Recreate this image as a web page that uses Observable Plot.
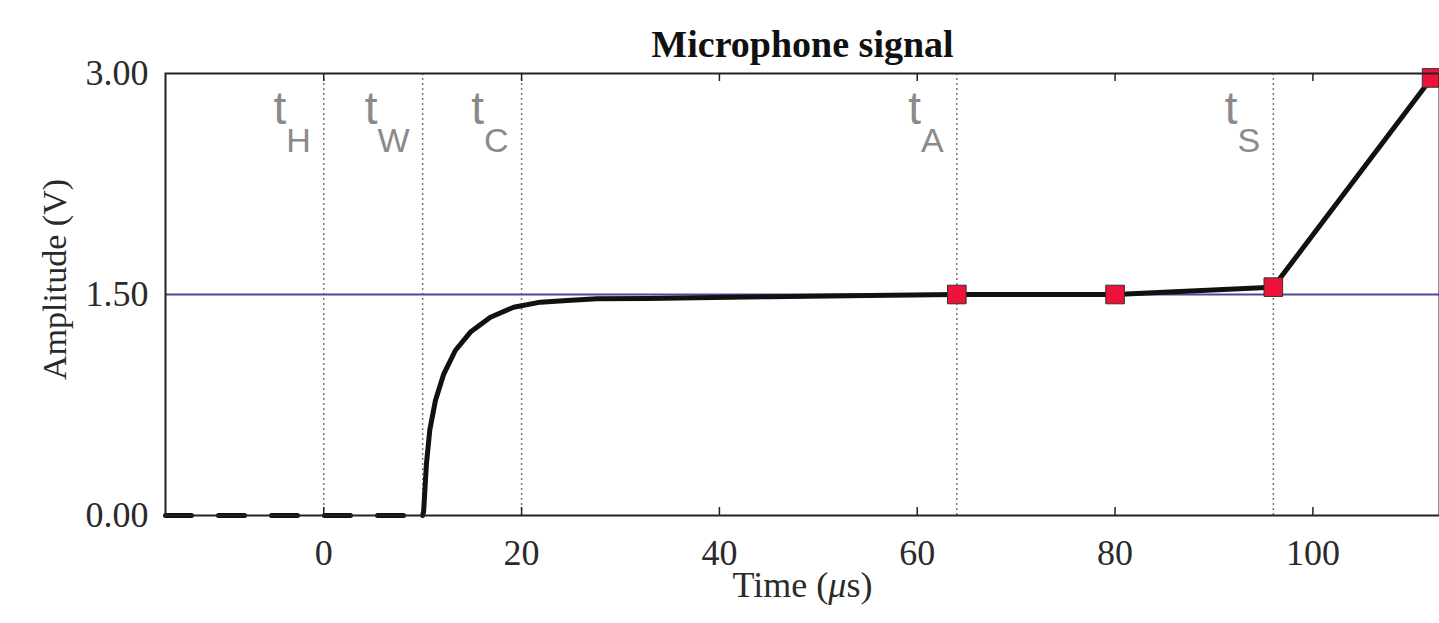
<!DOCTYPE html>
<html>
<head>
<meta charset="utf-8">
<script src="https://cdn.jsdelivr.net/npm/d3@7"></script>
<script src="https://cdn.jsdelivr.net/npm/@observablehq/plot@0.6"></script>
<style>
  html, body { margin: 0; padding: 0; background: #fff; }
</style>
</head>
<body>
<div id="chart"></div>
<script>
// ---- data ----
const xTicks = [0, 20, 40, 60, 80, 100];
const yTicks = [0, 1.5, 3];
const markerTimes = [0, 10, 20, 64, 96];
const markerNames = ["H", "W", "C", "A", "S"];
const preT = [-16, 9.5];
const preV = [0, 0];
const riseT = [10, 10.1, 10.38, 10.72, 11.29, 12.13, 13.3, 14.83, 16.85, 19.2, 21.9, 24.6, 27.6, 32.7, 36, 45, 55];
const riseV = [0, 0.03, 0.35, 0.58, 0.78, 0.96, 1.12, 1.245, 1.346, 1.414, 1.448, 1.46, 1.471, 1.473, 1.476, 1.485, 1.493];
const sampleT = [64, 80, 96, 112];
const sampleV = [1.50, 1.50, 1.55, 2.97];
const refLevel = [1.5];
const title = "Microphone signal";
const xLabel = "Time (μs)";
const yLabel = "Amplitude (V)";

const pre = preT.map((t, i) => ({t, v: preV[i]}));
const sig = riseT.concat(sampleT).map((t, i) => ({t, v: riseV.concat(sampleV)[i]}));
const samples = sampleT.map((t, i) => ({t, v: sampleV[i]}));
const markers = markerTimes.map((t, i) => ({t, name: "t" + markerNames[i]}));

const W = 1439, H = 623, mt = 73, mb = 108, ml = 165, mr = 0;
const ph = H - mt - mb;

const plot = Plot.plot({
  width: W, height: H,
  marginLeft: ml, marginRight: mr, marginTop: mt, marginBottom: mb,
  style: {fontFamily: "'Liberation Serif', 'Times New Roman', serif", fontSize: "36px", color: "#2a2a2a", background: "#fff"},
  x: {domain: [-16, 112.8]},
  y: {domain: [0, 3]},
  marks: [
    Plot.ruleX(markers, {x: "t", stroke: "#7a7a7a", strokeWidth: 1.5, strokeDasharray: "2,3"}),
    Plot.ruleY(refLevel, {stroke: "#4a4a9c", strokeWidth: 2}),
    Plot.line(pre, {x: "t", y: "v", stroke: "#111", strokeWidth: 5, strokeDasharray: "26,27"}),
    Plot.line(sig, {x: "t", y: "v", stroke: "#111", strokeWidth: 5, strokeLinejoin: "round"}),
    Plot.dot(samples, {x: "t", y: "v", symbol: "square", r: 10.5, fill: "#ec1238", stroke: "#333", strokeWidth: 1}),
    Plot.frame({stroke: "#222", strokeWidth: 2}),
    Plot.tickX(xTicks, {x: d => d, insetTop: ph - 8, stroke: "#222", strokeWidth: 1.5}),
    Plot.tickX(xTicks, {x: d => d, insetBottom: ph - 8, stroke: "#222", strokeWidth: 1.5}),
    Plot.axisX(xTicks, {tickSize: 0, tickPadding: 24, label: null, fontSize: 36}),
    Plot.axisY(yTicks, {tickSize: 0, tickPadding: 17, label: null, fontSize: 36, tickFormat: d3.format(".2f")}),
    Plot.text(markers, {x: "t", text: "name", frameAnchor: "top", dy: 50, dx: -13, lineAnchor: "bottom", textAnchor: "end",
      fill: "#8a8a8a", fontSize: 46, fontFamily: "'Liberation Sans', Arial, sans-serif"}),
    Plot.text([title], {frameAnchor: "top", dy: -17, lineAnchor: "bottom", textAnchor: "middle", fontWeight: "bold", fontSize: 38, fill: "#111"}),
    Plot.text([xLabel], {frameAnchor: "bottom", dy: 81, lineAnchor: "bottom", textAnchor: "middle", fontSize: 36, fill: "#2a2a2a"}),
    Plot.text([yLabel], {frameAnchor: "left", dx: -110, dy: -15, rotate: -90, textAnchor: "middle", fontSize: 34, fill: "#2a2a2a"})
  ]
});

const names = new Set(markers.map(d => d.name));
d3.select(plot).selectAll("text").each(function() {
  const s = this.textContent;
  const el = d3.select(this);
  if (names.has(s)) {
    el.text(s.slice(0, 1));
    el.append("tspan").attr("dy", "0.84em").attr("font-size", "0.74em").text(s.slice(1));
  } else if (s === xLabel) {
    const i = s.indexOf("μ");
    el.text(s.slice(0, i));
    el.append("tspan").attr("font-style", "italic").text("μ");
    el.append("tspan").text(s.slice(i + 1));
  }
});

document.getElementById("chart").appendChild(plot);
</script>
</body>
</html>
